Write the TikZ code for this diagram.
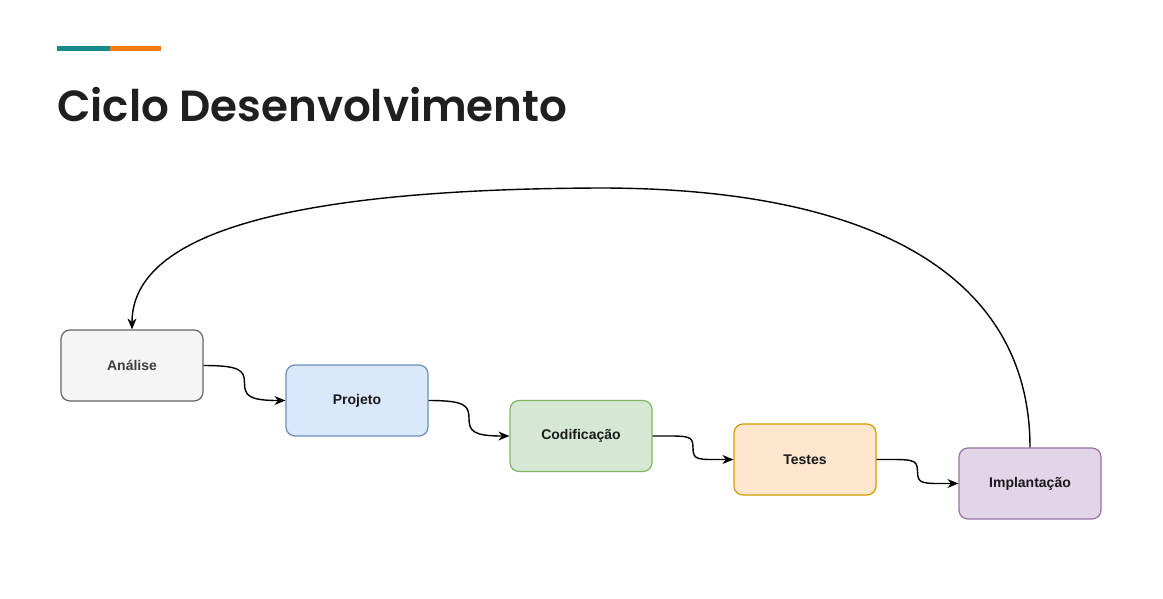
\documentclass[tikz,border=0pt]{standalone}
\usepackage{fontspec}
\setmainfont{Liberation Sans}
\IfFontExistsTF{Poppins SemiBold}{\newfontfamily\titlefont{Poppins SemiBold}\def\titleweight{}}{\newfontfamily\titlefont{Poppins}\def\titleweight{\bfseries}}
\usetikzlibrary{arrows.meta,calc}
\definecolor{teal1}{HTML}{16898A}
\definecolor{orange1}{HTML}{F57A10}
\definecolor{titlec}{HTML}{1F1F1F}
\definecolor{gfill}{HTML}{F5F5F5}\definecolor{gdraw}{HTML}{666666}
\definecolor{bfill}{HTML}{DAE8FC}\definecolor{bdraw}{HTML}{6C8EBF}
\definecolor{grfill}{HTML}{D5E8D4}\definecolor{grdraw}{HTML}{82B366}
\definecolor{ofill}{HTML}{FFE6CC}\definecolor{odraw}{HTML}{D79B00}
\definecolor{pfill}{HTML}{E1D5E7}\definecolor{pdraw}{HTML}{9673A6}
\definecolor{txt}{HTML}{1A1A1A}
\tikzset{
  stage/.style={draw, rounded corners=9pt, minimum width=142pt, minimum height=71pt,
    line width=1.2pt, font=\fontsize{14}{16}\selectfont\bfseries, text=txt, inner sep=0pt},
  flow/.style={draw=black, line width=1.4pt, -{Stealth[length=11pt,width=9pt]}},
  back/.style={draw=black, line width=1.4pt, -{Stealth[length=11pt,width=9pt]}}
}
\begin{document}
\begin{tikzpicture}[x=1pt,y=-1pt]
\useasboundingbox[fill=white] (0,0) rectangle (1163,598);
\draw[teal1, line width=5pt] (57,48.5) -- (110,48.5);
\draw[orange1, line width=5pt] (110,48.5) -- (161,48.5);
\node[anchor=base west, inner sep=0pt, text=titlec, font=\titlefont\fontsize{43.6}{50}\selectfont\titleweight] (title) at (57,121) {Ciclo Desenvolvimento};
\node[stage, fill=gfill, draw=gdraw, text=gdraw!60!black] (a) at (132,365.5) {Análise};
\node[stage, fill=bfill, draw=bdraw] (b) at (357,400.5) {Projeto};
\node[stage, fill=grfill, draw=grdraw] (c) at (581,436) {Codificação};
\node[stage, fill=ofill, draw=odraw] (d) at (805,459.5) {Testes};
\node[stage, fill=pfill, draw=pdraw] (e) at (1030,483.5) {Implantação};
\foreach \p/\q in {a/b,b/c,c/d,d/e}{
  \coordinate (m) at ($(\p.east)!.5!(\q.west)$);
  \draw[flow] (\p.east) .. controls ($(\p.east)+(36,0)$) and ($(m)+(0,-13)$) .. (m)
    .. controls ($(m)+(0,13)$) and ($(\q.west)+(-36,0)$) .. (\q.west);
}
\coordinate (top) at (600,188);
\draw[back] (e.north) .. controls (1030,280) and (880,188) .. (top)
  .. controls (300,189) and (132,230) .. (a.north);
\end{tikzpicture}
\end{document}
